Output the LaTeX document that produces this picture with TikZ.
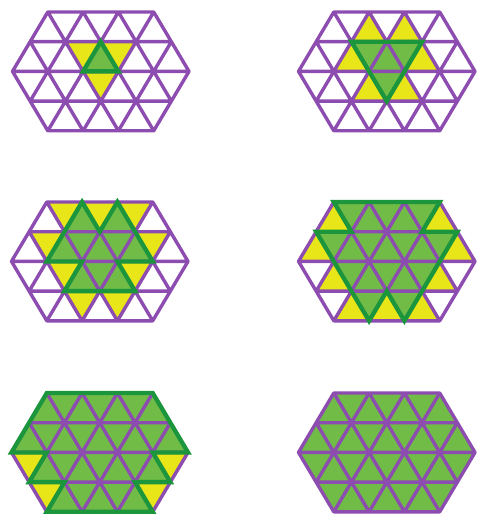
\documentclass[tikz,border=0pt]{standalone}
\usepackage{tikz}
\definecolor{purp}{RGB}{140,76,176}
\definecolor{yel}{RGB}{232,230,24}
\definecolor{gfill}{RGB}{112,188,70}
\definecolor{gline}{RGB}{28,150,60}
\tikzset{
  gridline/.style={draw=purp,line width=3.4pt,line cap=round,line join=round},
  greenline/.style={draw=gline,line width=4.3pt,line cap=round,line join=miter},
  panel/.style={x=35.3pt,y=-29.7pt},
}
\newcommand{\UpT}[3]{\fill[#1] (#3,#2) -- ({#3-0.5},{#2+1}) -- ({#3+0.5},{#2+1}) -- cycle;}
\newcommand{\DnT}[3]{\fill[#1] ({#3-0.5},#2) -- ({#3+0.5},#2) -- (#3,{#2+1}) -- cycle;}
\newcommand{\HexGrid}{%
  \draw[gridline] (1,0)--(4,0) (0.5,1)--(4.5,1) (0,2)--(5,2) (0.5,3)--(4.5,3) (1,4)--(4,4)
    (0,2)--(1,4) (0.5,1)--(2,4) (1,0)--(3,4) (2,0)--(4,4) (3,0)--(4.5,3) (4,0)--(5,2)
    (5,2)--(4,4) (4.5,1)--(3,4) (4,0)--(2,4) (3,0)--(1,4) (2,0)--(0.5,3) (1,0)--(0,2);}
\begin{document}
\begin{tikzpicture}
\useasboundingbox (0,0) rectangle (476pt,-518pt);
% panel 1
\begin{scope}[shift={(12.5pt,-12pt)},panel]
  \fill[yel] (1.5,1)--(3.5,1)--(2.5,3)--cycle;
  \fill[gfill] (2.5,1)--(3,2)--(2,2)--cycle;
  \HexGrid
  \draw[greenline] (2.5,1)--(3,2)--(2,2)--cycle;
\end{scope}
% panel 2
\begin{scope}[shift={(298.5pt,-12pt)},panel]
  \UpT{yel}{0}{2}\UpT{yel}{0}{3}
  \UpT{yel}{1}{1.5}\UpT{yel}{1}{3.5}
  \UpT{yel}{2}{2}\UpT{yel}{2}{3}
  \fill[gfill] (1.5,1)--(3.5,1)--(2.5,3)--cycle;
  \HexGrid
  \draw[greenline] (1.5,1)--(3.5,1)--(2.5,3)--cycle;
\end{scope}
% panel 3
\begin{scope}[shift={(11.5pt,-202pt)},panel]
  \DnT{yel}{0}{1.5}\DnT{yel}{0}{2.5}\DnT{yel}{0}{3.5}
  \DnT{yel}{1}{1}\DnT{yel}{1}{4}
  \DnT{yel}{2}{1.5}\DnT{yel}{2}{3.5}
  \DnT{yel}{3}{2}\DnT{yel}{3}{3}
  \fill[gfill] (2,0)--(2.5,1)--(3,0)--(3.5,1)--(4,2)--(3,2)--(3.5,3)--(1.5,3)--(2,2)--(1,2)--(1.5,1)--cycle;
  \HexGrid
  \draw[greenline] (2,0)--(2.5,1)--(3,0)--(3.5,1)--(4,2)--(3,2)--(3.5,3)--(1.5,3)--(2,2)--(1,2)--(1.5,1)--cycle;
\end{scope}
% panel 4
\begin{scope}[shift={(298.5pt,-202pt)},panel]
  \UpT{yel}{0}{1}\UpT{yel}{0}{4}
  \UpT{yel}{1}{0.5}\UpT{yel}{1}{4.5}
  \UpT{yel}{2}{1}\UpT{yel}{2}{4}
  \UpT{yel}{3}{1.5}\UpT{yel}{3}{2.5}\UpT{yel}{3}{3.5}
  \fill[gfill] (1,0)--(4,0)--(3.5,1)--(4.5,1)--(4,2)--(3.5,3)--(3,4)--(2.5,3)--(2,4)--(1.5,3)--(1,2)--(0.5,1)--(1.5,1)--cycle;
  \HexGrid
  \draw[greenline] (1,0)--(4,0)--(3.5,1)--(4.5,1)--(4,2)--(3.5,3)--(3,4)--(2.5,3)--(2,4)--(1.5,3)--(1,2)--(0.5,1)--(1.5,1)--cycle;
\end{scope}
% panel 5
\begin{scope}[shift={(11.5pt,-393pt)},panel]
  \DnT{yel}{2}{0.5}\DnT{yel}{2}{4.5}
  \DnT{yel}{3}{1}\DnT{yel}{3}{4}
  \fill[gfill] (1,0)--(4,0)--(5,2)--(4,2)--(4.5,3)--(3.5,3)--(4,4)--(1,4)--(1.5,3)--(0.5,3)--(1,2)--(0,2)--cycle;
  \HexGrid
  \draw[greenline] (1,0)--(4,0)--(5,2)--(4,2)--(4.5,3)--(3.5,3)--(4,4)--(1,4)--(1.5,3)--(0.5,3)--(1,2)--(0,2)--cycle;
\end{scope}
% panel 6
\begin{scope}[shift={(298.5pt,-393pt)},panel]
  \fill[gfill] (1,0)--(4,0)--(5,2)--(4,4)--(1,4)--(0,2)--cycle;
  \HexGrid
\end{scope}
\end{tikzpicture}
\end{document}
